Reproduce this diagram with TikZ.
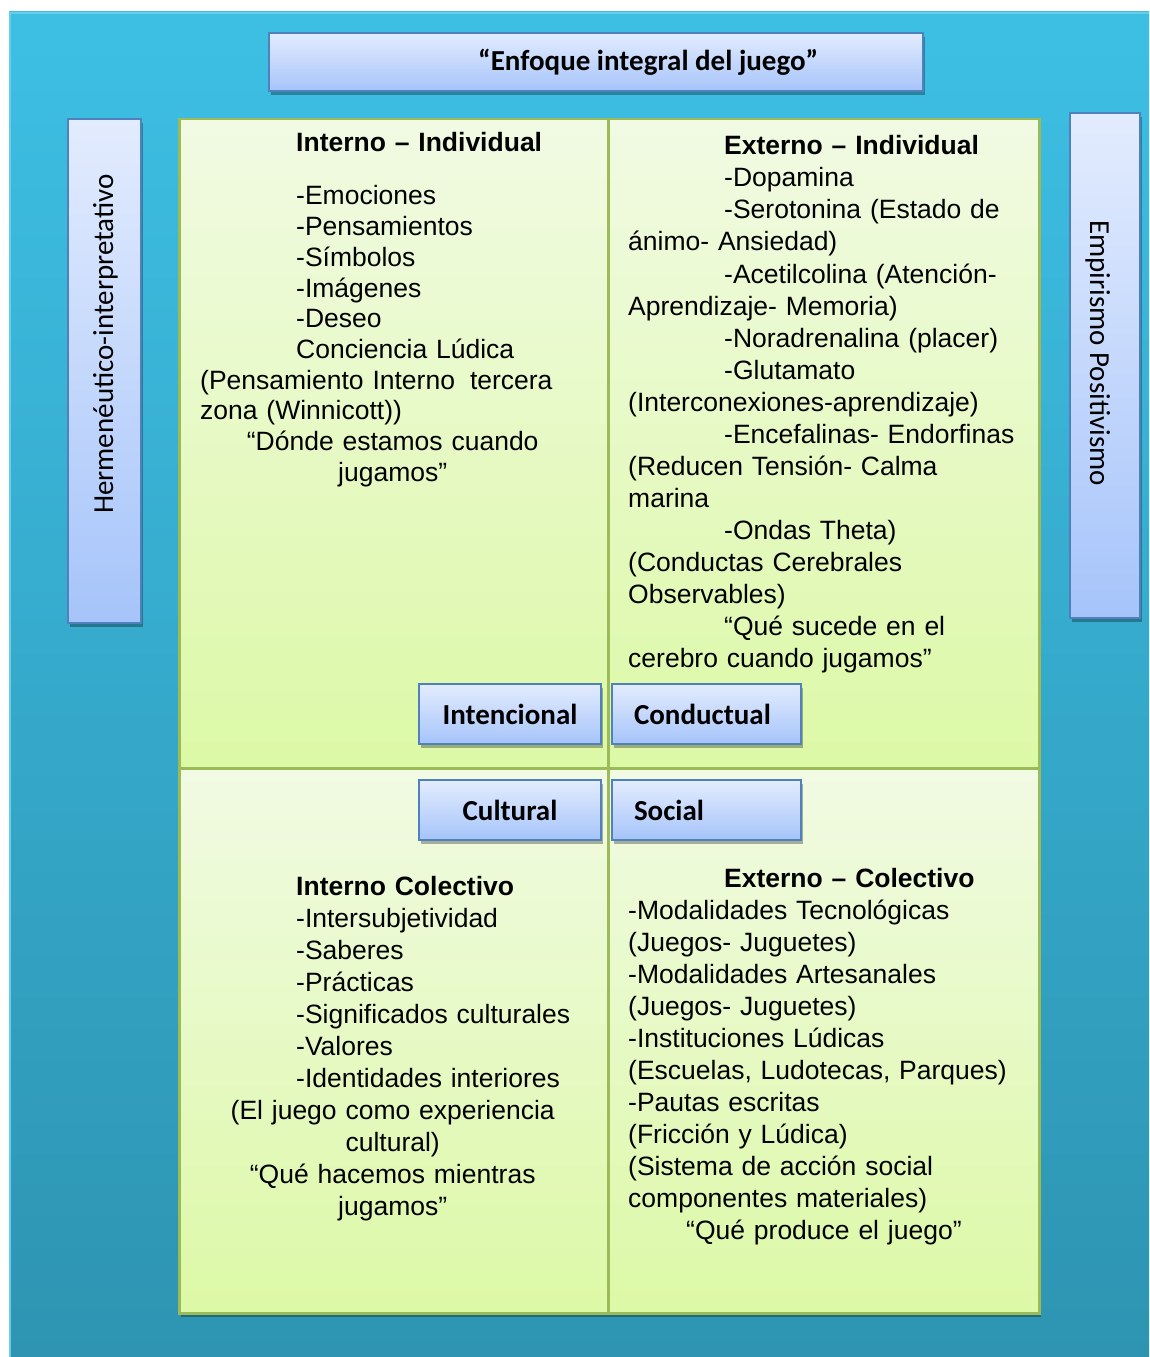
\documentclass[tikz,border=0pt]{standalone}
\usepackage{fontspec}
\setmainfont{Liberation Sans}
\newfontfamily\calibri{Carlito}
\usetikzlibrary{positioning,shadows}

\definecolor{bgtop}{HTML}{3DBFE4}
\definecolor{bgbot}{HTML}{2E94B2}
\definecolor{bgedge}{HTML}{66CDEB}
\definecolor{quadtop}{HTML}{F1FAE3}
\definecolor{quadbot}{HTML}{DCF9A6}
\definecolor{quadline}{HTML}{9BBB59}
\definecolor{boxtop}{HTML}{E3ECFE}
\definecolor{boxbot}{HTML}{A6C4FA}
\definecolor{boxline}{HTML}{4F81BD}

\newcommand\tabin{\hspace*{96bp}}
\newcommand\ctrline[1]{\makebox[385bp][c]{#1}}

\tikzset{
  quad/.style={draw=quadline, line width=2.5bp, top color=quadtop, bottom color=quadbot,
    anchor=north west, inner sep=0pt,
    drop shadow={shadow xshift=2bp, shadow yshift=-4bp, opacity=0.3, fill=black}},
  lbox/.style={draw=boxline, line width=2bp, top color=boxtop, bottom color=boxbot, inner sep=0pt,
    drop shadow={shadow xshift=2bp, shadow yshift=-4bp, opacity=0.3, fill=black}},
  tag/.style={lbox, font=\calibri\bfseries\fontsize{29bp}{34bp}\selectfont,
    minimum height=60bp, inner xsep=22bp},
  txt/.style={anchor=base west, inner sep=0pt, align=left,
    font=\fontsize{26.5bp}{32bp}\selectfont},
  side/.style={anchor=base west, inner sep=0pt, font=\calibri\fontsize{29bp}{34bp}\selectfont}
}

\begin{document}
\begin{tikzpicture}[x=1bp, y=-1bp]
  \useasboundingbox (0,0) rectangle (1149,1357);
  % background
  \fill[top color=bgtop, bottom color=bgbot] (9,12) rectangle (1149,1357);
  \draw[bgedge, line width=2bp] (10,1357) |- (1149,13);

  % title
  \node[lbox, anchor=north west, minimum width=654bp, minimum height=58bp] (title) at (268,32) {};
  \node[side, font=\calibri\bfseries\fontsize{29bp}{34bp}\selectfont] (titletext) at (478,71) {“Enfoque integral del juego”};

  % side bars
  \node[lbox, anchor=north west, minimum width=73bp, minimum height=504bp] (herm) at (67,118) {};
  \node[side, rotate=90] (hermtext) at (113,514) {Hermenéutico-interpretativo};
  \node[lbox, anchor=north west, minimum width=70bp, minimum height=505bp] (emp) at (1069,112) {};
  \node[side, rotate=-90] (emptext) at (1090,220) {Empirismo Positivismo};

  % quadrants
  \node[quad, minimum width=429bp, minimum height=649bp] (ii) at (178,118) {};
  \node[quad, minimum width=431bp, minimum height=649bp] (ei) at (607,118) {};
  \node[quad, minimum width=429bp, minimum height=545bp] (ic) at (178,767) {};
  \node[quad, minimum width=431bp, minimum height=545bp] (ec) at (607,767) {};

  \node[txt, text width=385bp, font=\fontsize{26.5bp}{30.7bp}\selectfont] (iitext) at (200,152) {%
    \tabin\textbf{Interno – Individual}\\[22.3bp]
    \tabin-Emociones\\
    \tabin-Pensamientos\\
    \tabin-Símbolos\\
    \tabin-Imágenes\\
    \tabin-Deseo\\
    \tabin Conciencia Lúdica\\
    (Pensamiento Interno\hspace{15bp}tercera\\
    zona (Winnicott))\\
    \ctrline{“Dónde estamos cuando}\\
    \ctrline{jugamos”}};

  \node[txt, text width=400bp] (eitext) at (628,155) {%
    \tabin\textbf{Externo – Individual}\\
    \tabin-Dopamina\\
    \tabin-Serotonina (Estado de\\
    ánimo- Ansiedad)\\
    \tabin-Acetilcolina (Atención-\\
    Aprendizaje- Memoria)\\
    \tabin-Noradrenalina (placer)\\
    \tabin-Glutamato\\
    (Interconexiones-aprendizaje)\\
    \tabin-Encefalinas- Endorfinas\\
    (Reducen Tensión- Calma\\
    marina\\
    \tabin-Ondas Theta)\\
    (Conductas Cerebrales\\
    Observables)\\
    \tabin“Qué sucede en el\\
    cerebro cuando jugamos”};

  \node[txt, text width=385bp] (ictext) at (200,895) {%
    \tabin\textbf{Interno Colectivo}\\
    \tabin-Intersubjetividad\\
    \tabin-Saberes\\
    \tabin-Prácticas\\
    \tabin-Significados culturales\\
    \tabin-Valores\\
    \tabin-Identidades interiores\\
    \ctrline{(El juego como experiencia}\\
    \ctrline{cultural)}\\
    \ctrline{“Qué hacemos mientras}\\
    \ctrline{jugamos”}};

  \node[txt, text width=400bp] (ectext) at (628,887) {%
    \tabin\textbf{Externo – Colectivo}\\
    -Modalidades Tecnológicas\\
    (Juegos- Juguetes)\\
    -Modalidades Artesanales\\
    (Juegos- Juguetes)\\
    -Instituciones Lúdicas\\
    (Escuelas, Ludotecas, Parques)\\
    -Pautas escritas\\
    (Fricción y Lúdica)\\
    (Sistema de acción social\\
    componentes materiales)\\
    \hspace*{58bp}“Qué produce el juego”};

  % quadrant tags
  \node[tag, text width=138bp, align=center] (intencional) at (510,714) {Intencional};
  \node[tag, text width=145bp, align=left] (conductual) at (706.5,714) {Conductual};
  \node[tag, text width=138bp, align=center] (cultural) at (510,810) {Cultural};
  \node[tag, text width=145bp, align=left] (social) at (706.5,810) {Social};
\end{tikzpicture}
\end{document}
